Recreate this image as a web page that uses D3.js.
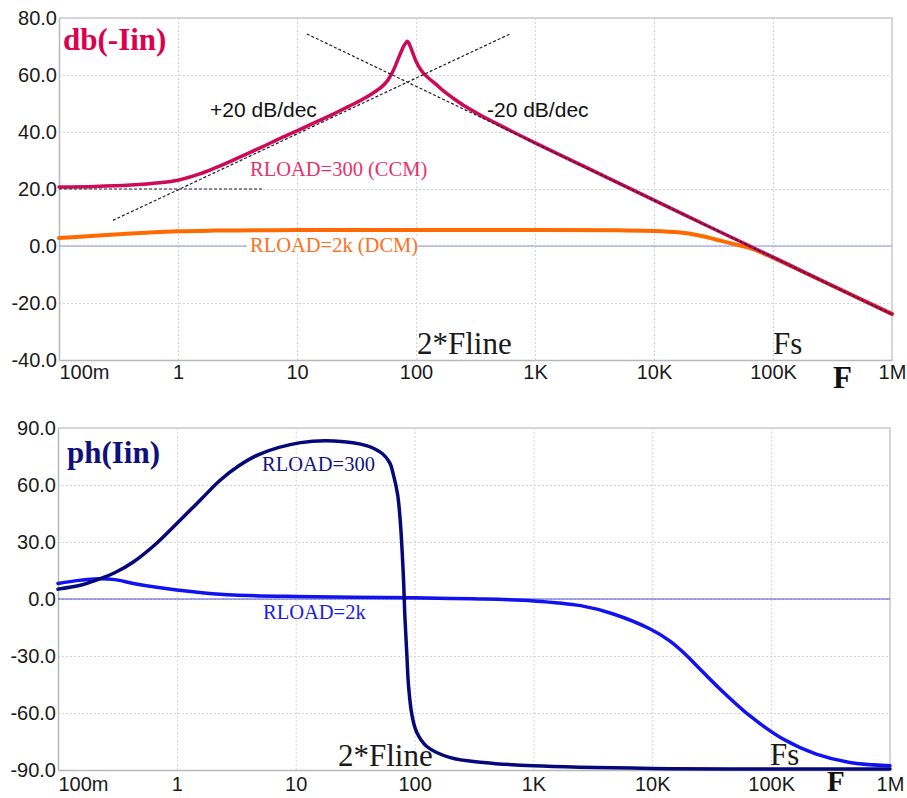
<!DOCTYPE html>
<html>
<head>
<meta charset="utf-8">
<script src="https://cdn.jsdelivr.net/npm/d3@7"></script>
<style>
  body { margin: 0; background: #fff; }
  .axis text { font-family: "Liberation Sans", Arial, sans-serif; font-size: 20px; fill: #1a1a1a; }
  .axis path { stroke: #b8b8b8; stroke-width: 1.5; }
  .grid line { stroke: #d4d4d4; stroke-dasharray: 2,2; }
  .grid path { display: none; }
  .serif { font-family: "Liberation Serif", "Times New Roman", serif; }
  .sans { font-family: "Liberation Sans", Arial, sans-serif; }
</style>
</head>
<body>
<svg id="chart" width="907" height="798"></svg>
<script>
// frequency ticks (shared by both plots)
var freqTicks = [0.1, 1, 10, 100, 1e3, 1e4, 1e5, 1e6];
var freqLabels = ["100m", "1", "10", "100", "1K", "10K", "100K", "1M"];
var dbTicks = [-40, -20, 0, 20, 40, 60, 80];
var phTicks = [-90, -60, -30, 0, 30, 60, 90];

// db(-Iin), RLOAD=300 (CCM)
var ccmFreq = [0.1, 0.2, 0.4, 0.7, 1, 1.5, 2, 3, 5, 7, 10, 15, 20, 27, 35, 44, 52, 58, 64, 69, 74, 79, 83, 85, 87, 90, 94, 100, 108, 116, 130, 145, 170, 200, 250, 350, 500, 1000, 3000, 1e4, 3e4, 1e5, 3e5, 1e6];
var ccmDb = [20.7, 20.9, 21.4, 22.2, 23.1, 25.2, 27.2, 30.4, 34.6, 37.5, 40.4, 43.8, 46.2, 48.9, 51.3, 53.8, 56.0, 58.2, 61.3, 64.5, 67.6, 70.2, 71.5, 71.8, 71.2, 69.8, 67.8, 64.8, 62.3, 60.6, 58.6, 57.0, 54.4, 52.2, 49.4, 45.9, 42.5, 36.2, 26.6, 16.1, 6.5, -3.9, -13.5, -23.9];

// db(-Iin), RLOAD=2k (DCM)
var dcmFreq = [0.1, 0.2, 0.4, 0.7, 1, 2, 5, 10, 100, 1000, 5000, 1e4, 1.6e4, 2.4e4, 3.3e4, 5e4, 6.8e4, 1e5, 2e5, 5e5, 1e6];
var dcmDb = [2.8, 3.6, 4.4, 4.9, 5.2, 5.4, 5.5, 5.6, 5.6, 5.6, 5.5, 5.3, 4.8, 3.7, 2.3, 0.4, -1.1, -4.1, -10.0, -17.9, -23.8];

// asymptotes (freq, dB)
var asymFlat = [[0.1, 20], [5.2, 20]];
var asymUp = [[0.284, 9.0], [617, 74.4]];
var asymDown = [[12.1, 74.4], [1e6, -24]];

// ph(Iin), RLOAD=300
var ph300Freq = [0.1, 0.16, 0.21, 0.3, 0.43, 0.68, 1.07, 1.57, 2.3, 3.3, 5, 11, 21, 40, 54, 62, 66, 72, 76, 80.5, 83, 86, 89, 95, 104, 126, 200, 380, 1000, 1e4, 1e5, 1e6];
var ph300Deg = [5.2, 7.5, 10, 13.8, 19.5, 29.5, 41.6, 52, 62.4, 70, 76.3, 82.3, 83.2, 80.6, 76.3, 71.5, 66, 55, 40, 12, -10, -28.6, -45.8, -61, -70, -77.5, -83.5, -86, -87.8, -89.2, -89.5, -89.5];

// ph(Iin), RLOAD=2k
var ph2kFreq = [0.1, 0.15, 0.22, 0.3, 0.43, 0.7, 1, 1.7, 3, 10, 100, 300, 1000, 2500, 4700, 9600, 1.4e4, 1.82e4, 2.4e4, 3.47e4, 6.6e4, 1.26e5, 2.4e5, 4.58e5, 1e6];
var ph2kDeg = [8.2, 9.8, 10.6, 10.2, 8.2, 6.0, 4.7, 3.2, 2.1, 1.3, 0.6, 0.1, -1.0, -3.5, -7.9, -15.8, -22, -28, -35.5, -45.6, -61.4, -73.7, -81.6, -86, -87.8];

var svg = d3.select("#chart");

function panel(x0, x1, y0, y1, yDomain, yTicks, labelPad) {
  var x = d3.scaleLog().domain([0.1, 1e6]).range([x0, x1]);
  var y = d3.scaleLinear().domain(yDomain).range([y1, y0]);
  var g = svg.append("g");

  // grid
  g.append("g").attr("class", "grid")
    .attr("transform", "translate(0," + y1 + ")")
    .call(d3.axisBottom(x).tickValues(freqTicks.slice(1, -1)).tickSize(-(y1 - y0)).tickFormat(""));
  g.append("g").attr("class", "grid")
    .attr("transform", "translate(" + x0 + ",0)")
    .call(d3.axisLeft(y).tickValues(yTicks.slice(1, -1)).tickSize(-(x1 - x0)).tickFormat(""));

  // frame
  g.append("path")
    .attr("d", "M" + x0 + "," + y0 + "H" + x1 + "V" + y1)
    .attr("fill", "none").attr("stroke", "#d6d6d6").attr("stroke-width", 2);

  var ax = g.append("g").attr("class", "axis")
    .attr("transform", "translate(0," + y1 + ")")
    .call(d3.axisBottom(x).tickValues(freqTicks).tickSize(0).tickPadding(labelPad)
      .tickFormat(function(d, i) { return freqLabels[i]; }));
  ax.select(".tick text").attr("text-anchor", "start");

  g.append("g").attr("class", "axis")
    .attr("transform", "translate(" + x0 + ",0)")
    .call(d3.axisLeft(y).tickValues(yTicks).tickSize(0).tickPadding(2)
      .tickFormat(function(d) { return d.toFixed(1); }));

  return { x: x, y: y, g: g };
}

function curve(p, fs, vs, color, width) {
  var pts = fs.map(function(f, i) { return [f, vs[i]]; });
  p.g.append("path")
    .attr("d", d3.line().x(function(d) { return p.x(d[0]); }).y(function(d) { return p.y(d[1]); })
      .curve(d3.curveCatmullRom.alpha(0.5))(pts))
    .attr("fill", "none").attr("stroke", color).attr("stroke-width", width)
    .attr("stroke-linejoin", "round").attr("stroke-linecap", "round");
}

function zeroLine(p, color) {
  p.g.append("line")
    .attr("x1", p.x(0.1)).attr("x2", p.x(1e6))
    .attr("y1", p.y(0)).attr("y2", p.y(0))
    .attr("stroke", color).attr("stroke-width", 1.2);
}

function label(txt, x, y, size, color, cls, bold) {
  return svg.append("text").attr("class", cls)
    .attr("x", x).attr("y", y)
    .attr("font-size", size).attr("fill", color)
    .attr("font-weight", bold ? "bold" : "normal")
    .text(txt);
}

// ---- top: magnitude ----
var magP = panel(59, 892, 18, 360, [-40, 80], dbTicks, 5);
zeroLine(magP, "#9090e0");
curve(magP, dcmFreq, dcmDb, "#ff6a00", 4);
curve(magP, ccmFreq, ccmDb, "#cc0a58", 3.5);

var asymLine = d3.line().x(function(d) { return magP.x(d[0]); }).y(function(d) { return magP.y(d[1]); });
[asymFlat, asymUp, asymDown].forEach(function(a) {
  magP.g.append("path").attr("d", asymLine(a))
    .attr("fill", "none").attr("stroke", "#222").attr("stroke-width", 1.2)
    .attr("stroke-dasharray", "3,2");
});

label("db(-Iin)", 63, 50, 31, "#dc0050", "serif", true);
label("+20 dB/dec", 210, 117, 21, "#111", "sans");
label("-20 dB/dec", 487, 117, 21, "#111", "sans");
label("RLOAD=300 (CCM)", 250, 176, 20.5, "#e8306a", "serif");
svg.append("rect").attr("x", 247).attr("y", 236).attr("width", 171).attr("height", 18).attr("fill", "#fff");
label("RLOAD=2k (DCM)", 250, 252, 20.5, "#ff7020", "serif");
label("2*Fline", 417, 354, 31, "#1a1a1a", "serif");
label("Fs", 773, 354, 31, "#1a1a1a", "serif");
label("F", 833, 388, 31, "#111", "serif", true);

// ---- bottom: phase ----
var phP = panel(58, 890, 428, 770, [-90, 90], phTicks, 7);
zeroLine(phP, "#5050d0");
curve(phP, ph2kFreq, ph2kDeg, "#1212f0", 3.5);
curve(phP, ph300Freq, ph300Deg, "#06087a", 3.5);

label("ph(Iin)", 67, 463, 31, "#10107a", "serif", true);
label("RLOAD=300", 262, 471, 20.5, "#141480", "serif");
label("RLOAD=2k", 263, 619, 20.5, "#1a1af0", "serif");
label("2*Fline", 338, 766, 31, "#1a1a1a", "serif");
label("Fs", 770, 765, 31, "#1a1a1a", "serif");
label("F", 827, 791, 29, "#111", "serif", true);
</script>
</body>
</html>
